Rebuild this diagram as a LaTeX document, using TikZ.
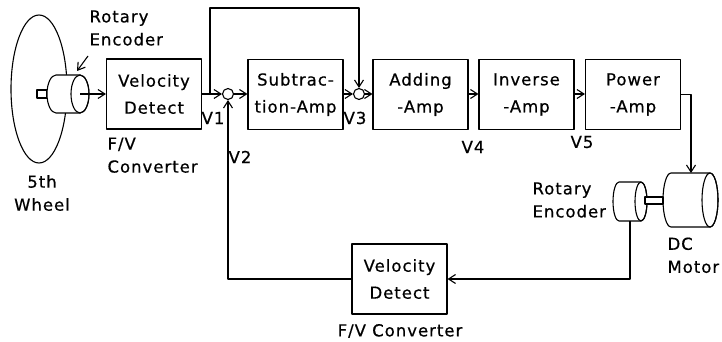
\documentclass[tikz,border=0pt]{standalone}
\usepackage{fontspec}
\setmainfont{DejaVu Sans}[LetterSpace=6, FakeBold=0.6]
\usetikzlibrary{arrows.meta}
\begin{document}
\begin{tikzpicture}[x=1pt, y=-1pt, line width=1.1pt, line join=round,
    font=\fontsize{16.5}{23}\selectfont]
    % Define styles
    \tikzset{
        block/.style={draw, minimum width=95, minimum height=70, align=center, inner sep=0pt},
        junction/.style={draw, circle, minimum size=11, inner sep=0pt},
        sig/.style={-{Straight Barb[length=7pt, width=9pt, line width=1.1pt]}},
        tag/.style={inner sep=0pt, align=left}
    }
    \useasboundingbox (0,0) rectangle (722,342);

    % 5th wheel with its rotary encoder
    \draw (39,89) ellipse [x radius=28, y radius=74];
    \draw (37,90) rectangle (47,98);
    \filldraw[fill=white] (56,75) -- (80,75) arc [start angle=-90, end angle=90, x radius=9, y radius=19]
        -- (56,113) arc [start angle=90, end angle=270, x radius=9, y radius=19] -- cycle;
    \draw (80,94) ellipse [x radius=9, y radius=19];
    \coordinate (enc1) at (80,94);
    \node[tag, anchor=west] (encname) at (89,28) {Rotary\\Encoder};
    \draw[sig] (88,56) -- (77,71);
    \node[tag, align=center] (wheel) at (42,193) {5th\\Wheel};

    % Forward path
    \node[block] (vd) at (154,94) {Velocity\\[4pt]Detect};
    \node[tag, anchor=north west] (fv) at (107,137) {F/V\\Converter};
    \node[junction] (j1) at (228,94) {};
    \node[block] (sub) at (295.5,94.5) {Subtrac-\\[4pt]tion-Amp};
    \node[junction] (j2) at (359,94) {};
    \node[block] (add) at (420.5,94.5) {Adding\\[4pt]-Amp};
    \node[block] (inv) at (526.5,94.5) {Inverse\\[4pt]-Amp};
    \node[block] (pow) at (633,94.5) {Power\\[4pt]-Amp};

    \draw[sig] (enc1) -- (vd.west);
    \draw[sig] (vd.east |- j1) -- (j1.west);
    \draw[sig] (j1.east) -- (sub.west |- j1);
    \draw[sig] (sub.east |- j2) -- (j2.west);
    \draw[sig] (j2.east) -- (add.west |- j2);
    \draw[sig] (add.east |- j2) -- (inv.west |- j2);
    \draw[sig] (inv.east |- j2) -- (pow.west |- j2);

    % V1 bypass to the second junction
    \coordinate (tap) at (210,94);
    \draw[sig] (tap) -- (210,8) -| (j2.north);

    % DC motor with its rotary encoder
    \filldraw[fill=white] (671,173) -- (710,173) arc [start angle=-90, end angle=90, x radius=8, y radius=27]
        -- (671,227) arc [start angle=90, end angle=270, x radius=8, y radius=27] -- cycle;
    \draw (710,200) ellipse [x radius=8, y radius=27];
    \coordinate (motor) at (691,173);
    \filldraw[fill=white] (619,182) -- (641,182) arc [start angle=-90, end angle=90, x radius=6, y radius=19.5]
        -- (619,221) arc [start angle=90, end angle=270, x radius=6, y radius=19.5] -- cycle;
    \draw (641,201.5) ellipse [x radius=6, y radius=19.5];
    \filldraw[fill=white] (645,197) rectangle (663,204);
    \coordinate (enc2) at (630,221);
    \node[tag, anchor=west] (encname2) at (532,200) {Rotary\\Encoder};
    \node[tag, anchor=north west] (dc) at (667,237) {DC\\Motor};

    \draw[sig] (pow.east) -- (691,94.5) -- (motor);

    % Feedback path
    \node[block] (fb) at (399.5,279) {Velocity\\[4pt]Detect};
    \node[tag] (fv2) at (400,331) {F/V Converter};
    \draw[sig] (enc2) |- (fb.east);
    \draw[sig] (fb.west) -| (j1.south);

    % Signal names
    \node[tag] (v1) at (213,118) {V1};
    \node[tag] (v2) at (240,157) {V2};
    \node[tag] (v3) at (355,118) {V3};
    \node[tag] (v4) at (473,147) {V4};
    \node[tag] (v5) at (582,142) {V5};
\end{tikzpicture}
\end{document}
